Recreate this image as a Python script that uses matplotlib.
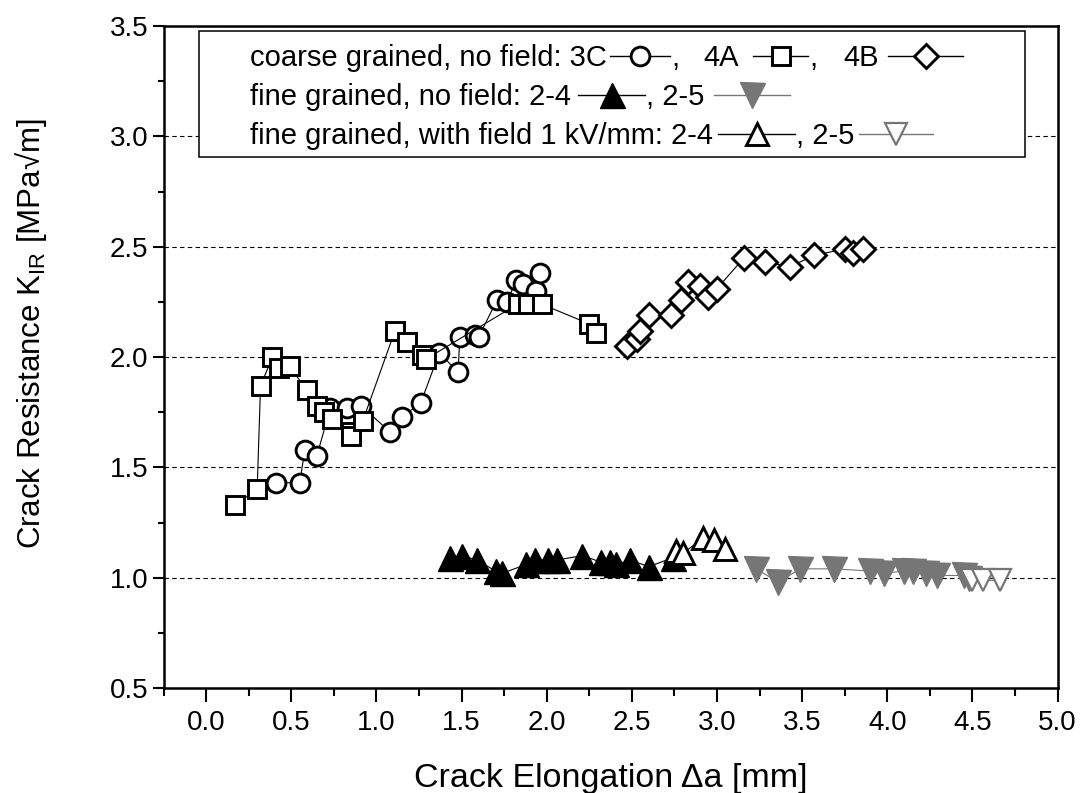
import matplotlib
matplotlib.use('Agg')
import matplotlib.pyplot as plt
from matplotlib.lines import Line2D
from matplotlib.patches import Rectangle
from matplotlib.ticker import MultipleLocator

plt.rcParams['font.family'] = ['Liberation Sans', 'DejaVu Sans']
plt.rcParams['mathtext.fontset'] = 'custom'
plt.rcParams['mathtext.rm'] = 'Liberation Sans'
plt.rcParams['mathtext.it'] = 'Liberation Sans:italic'

# coarse grained, no field
c3_x = [0.41, 0.55, 0.58, 0.65, 0.73, 0.83, 0.91, 1.08, 1.15, 1.26, 1.37, 1.48, 1.49,
        1.58, 1.60, 1.71, 1.77, 1.82, 1.86, 1.94, 1.96]
c3_y = [1.43, 1.43, 1.58, 1.55, 1.77, 1.77, 1.78, 1.66, 1.73, 1.79, 2.02, 1.93, 2.09,
        2.10, 2.09, 2.26, 2.25, 2.35, 2.33, 2.30, 2.38]
a4_x = [0.17, 0.30, 0.32, 0.39, 0.43, 0.49, 0.59, 0.65, 0.69, 0.74, 0.85, 0.85, 0.92,
        1.11, 1.18, 1.27, 1.29, 1.83, 1.89, 1.97, 2.25, 2.29]
a4_y = [1.33, 1.40, 1.87, 2.00, 1.95, 1.96, 1.85, 1.78, 1.75, 1.72, 1.66, 1.64, 1.71,
        2.12, 2.07, 2.01, 1.99, 2.24, 2.24, 2.24, 2.15, 2.11]
b4_x = [2.47, 2.53, 2.55, 2.60, 2.73, 2.79, 2.83, 2.90, 2.95, 3.00, 3.16, 3.28, 3.43,
        3.57, 3.75, 3.80, 3.86]
b4_y = [2.05, 2.08, 2.12, 2.19, 2.19, 2.26, 2.34, 2.32, 2.27, 2.31, 2.45, 2.43, 2.41,
        2.46, 2.49, 2.47, 2.49]
# fine grained, no field
f24_x = [1.43, 1.50, 1.59, 1.70, 1.74, 1.88, 1.93, 2.01, 2.06, 2.21, 2.32, 2.37, 2.41,
         2.49, 2.60, 2.74]
f24_y = [1.09, 1.10, 1.08, 1.03, 1.02, 1.06, 1.08, 1.08, 1.08, 1.10, 1.07, 1.07, 1.06,
         1.08, 1.05, 1.09]
f25_x = [3.23, 3.36, 3.49, 3.69, 3.90, 3.98, 4.10, 4.15, 4.23, 4.29, 4.45, 4.48]
f25_y = [1.04, 0.98, 1.04, 1.04, 1.03, 1.02, 1.03, 1.03, 1.02, 1.01, 1.01, 1.00]
# fine grained, with field 1 kV/mm
e24_x = [2.76, 2.80, 2.92, 2.98, 3.05]
e24_y = [1.12, 1.11, 1.18, 1.17, 1.13]
e25_x = [4.50, 4.56, 4.66]
e25_y = [0.99, 0.99, 0.99]

xticks = [0.0, 0.5, 1.0, 1.5, 2.0, 2.5, 3.0, 3.5, 4.0, 4.5, 5.0]
yticks = [0.5, 1.0, 1.5, 2.0, 2.5, 3.0, 3.5]

gray = '#767676'
st_c3 = dict(marker='o', ms=13.5, mfc='white', mec='black', mew=2.1, color='black')
st_a4 = dict(marker='s', ms=12.5, mfc='white', mec='black', mew=2.1, color='black')
st_b4 = dict(marker='D', ms=12.0, mfc='white', mec='black', mew=2.1, color='black')
st_f24 = dict(marker='^', ms=18, mfc='black', mec='black', mew=1.0, color='black')
st_f25 = dict(marker='v', ms=18, mfc=gray, mec=gray, mew=1.0, color=gray)
st_e24 = dict(marker='^', ms=16.5, mfc='white', mec='black', mew=2.1, color='black')
st_e25 = dict(marker='v', ms=16.5, mfc='white', mec=gray, mew=1.6, color=gray)

W, H = 1082, 793
fig = plt.figure(figsize=(W / 100, H / 100), dpi=100)
ax = fig.add_axes([163.5 / W, 1 - 688 / H, 894 / W, 662 / H])

ax.plot(c3_x, c3_y, lw=0.8, zorder=3, **st_c3)
ax.plot(a4_x, a4_y, lw=0.8, zorder=4, **st_a4)
ax.plot(b4_x, b4_y, lw=0.8, zorder=4, **st_b4)
ax.plot(f24_x, f24_y, lw=0.8, zorder=3, **st_f24)
ax.plot(e24_x, e24_y, lw=0.8, zorder=4, **st_e24)
ax.plot(f25_x, f25_y, lw=0.8, zorder=3, **st_f25)
ax.plot(e25_x, e25_y, lw=0.8, zorder=4, **st_e25)

ax.set_xlim(-0.25, 5.0)
ax.set_ylim(0.5, 3.5)
ax.set_xticks(xticks)
ax.set_xticklabels(['%.1f' % v for v in xticks])
ax.set_yticks(yticks)
ax.set_yticklabels(['%.1f' % v for v in yticks])
ax.xaxis.set_minor_locator(MultipleLocator(0.25))
ax.yaxis.set_minor_locator(MultipleLocator(0.25))
ax.tick_params(axis='x', which='major', direction='out', length=10, width=1.5,
               labelsize=20, pad=6)
ax.tick_params(axis='x', which='minor', direction='out', length=5.5, width=1.5)
ax.tick_params(axis='y', which='major', direction='out', length=8, width=1.5,
               labelsize=20, pad=3)
ax.tick_params(axis='y', which='minor', direction='out', length=4, width=1.5)
for sp in ax.spines.values():
    sp.set_linewidth(1.8)

ax.yaxis.grid(True, which='major', linestyle=(0, (4, 3)), color='black', lw=0.8)
ax.set_axisbelow(True)

ax.set_xlabel('Crack Elongation \u0394a [mm]', fontsize=24.5)
ax.xaxis.set_label_coords(0.5, -0.113)
ax.set_ylabel('Crack Resistance K$_\\mathregular{IR}$ [MPa\u221am]', fontsize=22.5)
ax.yaxis.set_label_coords(-0.128, 0.535)


# hand made legend box with inline marker samples (pixel layout)
def fx(px):
    return px / W


def fy(py):
    return 1 - py / H


fig.add_artist(Rectangle((fx(199), fy(157)), fx(1025) - fx(199), fy(31) - fy(157),
                         transform=fig.transFigure, facecolor='white',
                         edgecolor='black', lw=1.1, zorder=1))


def sample(x0, x1, yc, st):
    fig.add_artist(Line2D([fx(x0), fx(x1)], [fy(yc), fy(yc)],
                          transform=fig.transFigure, color=st['color'], lw=1.0,
                          zorder=2))
    fig.add_artist(Line2D([fx((x0 + x1) / 2)], [fy(yc)], transform=fig.transFigure,
                          ls='none', marker=st['marker'], ms=st['ms'], mfc=st['mfc'],
                          mec=st['mec'], mew=st['mew'], zorder=3))


def row(base, pieces):
    for p in pieces:
        if isinstance(p[1], str):
            fig.text(fx(p[0]), fy(base), p[1], fontsize=21, ha='left',
                     va='baseline', zorder=3)
        else:
            sample(p[0], p[1], base - 10.5, p[2])


row(66, [(250, 'coarse grained, no field: 3C'), (610, 670, st_c3), (671, ','),
         (703, '4A'), (753, 808, st_a4), (809, ','), (843, '4B'),
         (888, 963, st_b4)])
row(105, [(250, 'fine grained, no field: 2-4'), (578, 645, st_f24), (646, ', 2-5'),
          (714, 790, st_f25)])
row(144, [(250, 'fine grained, with field 1 kV/mm: 2-4'), (718, 795, st_e24),
          (796, ', 2-5'), (859, 933, st_e25)])

fig.savefig('out.png', dpi=100)
